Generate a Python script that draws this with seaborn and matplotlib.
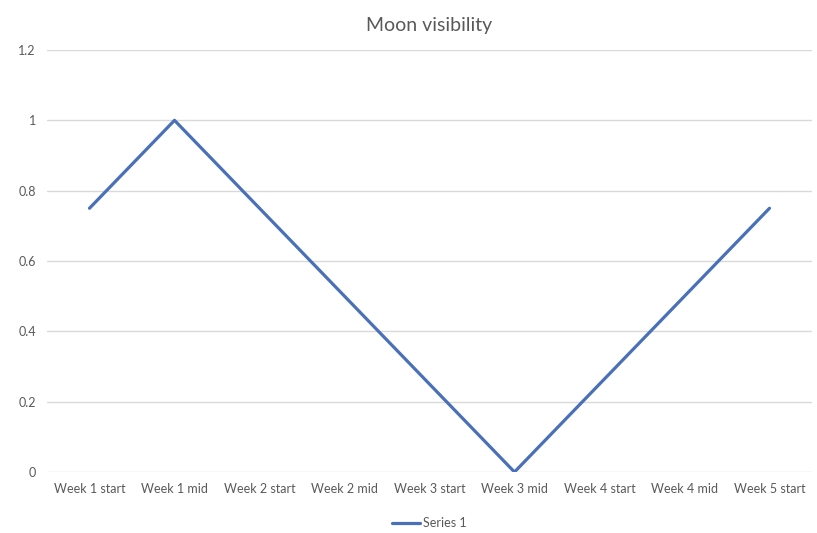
import matplotlib
matplotlib.use("Agg")
import matplotlib.pyplot as plt
import seaborn as sns
import pandas as pd

categories = ['Week 1 start', 'Week 1 mid', 'Week 2 start', 'Week 2 mid', 'Week 3 start',
              'Week 3 mid', 'Week 4 start', 'Week 4 mid', 'Week 5 start']
series_1 = [0.75, 1.0, 0.75, 0.5, 0.25, 0.0, 0.25, 0.5, 0.75]
y_ticks = [0, 0.2, 0.4, 0.6, 0.8, 1, 1.2]
y_tick_labels = ['0', '0.2', '0.4', '0.6', '0.8', '1', '1.2']

df = pd.DataFrame({'Week': categories, 'Visibility': series_1, 'Series': 'Series 1'})
df['pos'] = range(len(categories))

sns.set_style('white')
plt.rcParams['font.family'] = ['Lato', 'DejaVu Sans']

fig = plt.figure(figsize=(8.17, 5.33), dpi=100)
ax = fig.add_axes([47 / 817, 61 / 533, 765 / 817, 422 / 533])

sns.lineplot(data=df, x='pos', y='Visibility', hue='Series', palette=['#4A70B8'],
             linewidth=2.3, ax=ax, legend=True)

ax.set_xlim(-0.5, len(categories) - 0.5)
ax.set_ylim(0, 1.2)
ax.set_xticks(range(len(categories)))
ax.set_xticklabels(categories, fontsize=9, color='#595959')
ax.set_yticks(y_ticks)
ax.set_yticklabels(y_tick_labels, fontsize=9, color='#595959')
ax.tick_params(axis='both', length=0, pad=8)
ax.yaxis.grid(True, color='#D9D9D9', linewidth=1)
ax.set_axisbelow(True)
for s in ax.spines.values():
    s.set_visible(False)
ax.set_xlabel('')
ax.set_ylabel('')

ax.set_title('Moon visibility', fontsize=14, color='#595959', pad=14)

handles, labels = ax.get_legend_handles_labels()
ax.legend(handles, labels, loc='upper center', bbox_to_anchor=(0.5, -0.08), frameon=False,
          fontsize=9, labelcolor='#595959', handlelength=2.2, handletextpad=0.3)

fig.savefig('out.png', dpi=100, facecolor='white')
